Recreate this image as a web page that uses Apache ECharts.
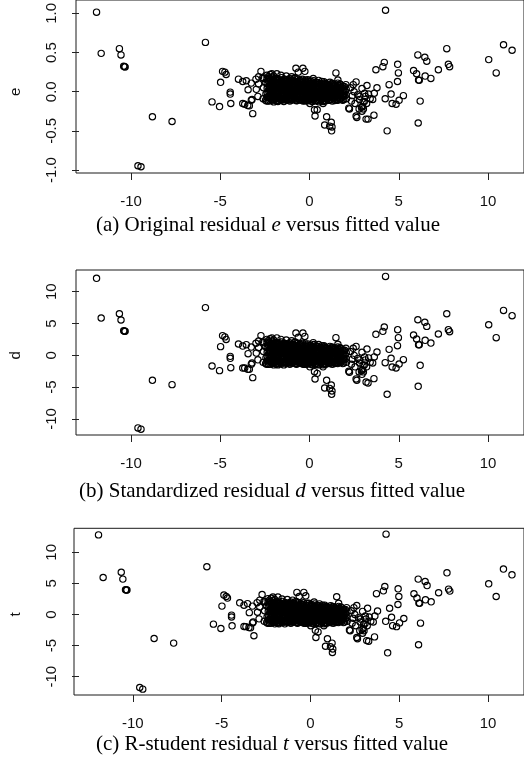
<!DOCTYPE html>
<html><head><meta charset="utf-8">
<script src="https://cdn.jsdelivr.net/npm/echarts@6/dist/echarts.min.js"></script>
<style>html,body{margin:0;padding:0;background:#fff}#c{width:524px;height:761px}</style>
</head><body><div id="c"></div>
<script>
// ---------- DATA ----------
// fitted values and residuals of the isolated points on the left
const leftX = [-11.93,-11.67,-10.65,-10.56,-10.41,-10.36,-10.33,-8.8,-7.7,-9.61,-9.44,-5.83,-4.87,-4.74,-4.67,-4.98,-5.46,-5.04,-4.44,-4.44,-4.41,-3.98,-3.74,-3.54,-3.74,-3.63,-3.44,-3.46,-3.37,-3.26,-3.18,-3.26,-2.89,-2.72,-2.98,-3.0,-2.85,-3.22,-2.85,-2.57,-2.39,-2.11,-1.83];
const leftE = [1.016,0.49,0.55,0.47,0.325,0.32,0.317,-0.32,-0.38,-0.946,-0.958,0.63,0.26,0.25,0.22,0.12,-0.13,-0.19,-0.005,-0.03,-0.15,0.16,0.13,0.14,-0.15,-0.16,0.025,-0.175,-0.18,-0.11,-0.28,0.11,-0.06,0.26,0.03,0.16,0.10,-0.10,0.19,0.17,0.21,0.23,0.23];
const leftD = [12.1,5.86,6.54,5.55,3.85,3.8,3.78,-3.92,-4.6,-11.4,-11.6,7.5,3.1,2.9,2.5,1.37,-1.68,-2.4,-0.16,-0.47,-1.94,1.78,1.46,1.68,-2.0,-2.0,0.26,-2.2,-2.2,-1.41,-3.5,1.3,-0.7,3.1,0.36,1.9,1.2,-1.2,2.26,2.0,2.5,2.74,2.74];
const leftT = [12.8,5.95,6.8,5.69,3.97,3.95,3.93,-3.86,-4.6,-11.74,-12.0,7.67,3.12,2.89,2.64,1.35,-1.55,-2.25,-0.1,-0.4,-1.82,1.88,1.5,1.75,-1.93,-1.95,0.3,-2.1,-2.15,-1.35,-3.42,1.35,-0.7,3.2,0.36,1.9,1.2,-1.2,2.3,2.05,2.55,2.8,2.8];

// isolated points on the right and around the dense cloud
const rightX = [4.26,10.87,11.35,10.04,10.46,7.69,6.07,6.46,6.57,7.78,7.85,7.22,6.8,6.48,5.83,6.0,6.11,6.15,6.2,6.09,4.35,4.94,4.98,4.93,4.19,4.11,3.72,4.46,3.78,4.57,4.24,5.26,5.02,4.63,4.85,3.28,3.61,3.31,3.4,3.22,2.65,2.24,2.61,1.48,1.59,0.96,0.85,1.22,1.26,1.24,0.31,0.28,0.43,-0.76,-0.63,-0.37,-0.26,2.91,2.78,3.0,2.94,2.82,3.09,2.7,2.8,2.98,3.02,2.94,3.13,3.2,3.07,3.63,3.54,2.2,2.61,3.17,1.13,0.76,0.02,-1.6,-1.3,-1.0,-0.8,-2.2,-1.44,-2.0,-2.4,-0.15,2.3,2.4,2.5,2.35,2.55,2.45];
const rightE = [1.04,0.60,0.53,0.41,0.24,0.55,0.47,0.44,0.39,0.35,0.32,0.28,0.17,0.20,0.27,0.23,0.15,0.145,-0.12,-0.40,-0.50,0.35,0.24,0.13,0.375,0.32,0.28,0.09,0.05,-0.03,-0.09,-0.05,-0.11,-0.15,-0.16,-0.35,-0.30,-0.03,-0.09,0.08,-0.33,-0.22,0.125,0.24,0.15,-0.32,-0.425,-0.39,-0.45,-0.50,-0.31,-0.23,-0.23,0.30,0.25,0.30,0.26,-0.20,-0.22,-0.13,0.04,-0.06,-0.02,-0.04,-0.10,-0.19,-0.22,-0.25,-0.06,-0.15,-0.125,-0.02,-0.10,-0.21,-0.31,-0.35,-0.44,-0.15,-0.15,0.21,0.2,0.19,0.18,0.22,-0.125,-0.13,-0.12,-0.12,0.05,-0.05,0.0,-0.12,-0.15,0.09];
const rightD = [12.4,7.06,6.23,4.81,2.78,6.54,5.6,5.2,4.55,4.03,3.72,3.35,1.93,2.36,3.2,2.57,1.68,1.65,-1.57,-4.87,-6.12,4.03,2.78,1.52,4.45,3.77,3.3,0.94,0.52,-0.47,-1.15,-0.68,-1.37,-1.83,-1.99,-4.34,-3.66,-0.4,-1.1,1.0,-3.92,-2.67,1.41,2.78,1.73,-3.92,-5.13,-4.66,-5.6,-6.12,-3.72,-2.56,-2.83,3.5,2.83,3.5,2.98,-2.4,-2.6,-1.55,0.48,-0.72,-0.24,-0.48,-1.2,-2.26,-2.6,-2.98,-0.72,-1.8,-1.5,-0.24,-1.2,-2.5,-3.7,-4.2,-5.2,-1.8,-1.8,2.5,2.4,2.3,2.1,2.6,-1.5,-1.5,-1.4,-1.4,0.6,-0.6,0.0,-1.4,-1.8,1.1];
const rightT = [12.92,7.3,6.38,4.93,2.9,6.7,5.69,5.3,4.65,4.08,3.76,3.49,2.04,2.36,3.33,2.64,1.83,1.8,-1.39,-4.87,-6.16,4.13,2.9,1.61,4.5,3.8,3.35,1.0,0.55,-0.45,-1.1,-0.65,-1.35,-1.8,-1.95,-4.3,-3.6,-0.4,-1.1,1.0,-3.9,-2.6,1.45,2.85,1.8,-3.9,-5.1,-4.6,-5.55,-6.1,-3.7,-2.55,-2.8,3.55,2.9,3.55,3.0,-2.4,-2.6,-1.55,0.5,-0.72,-0.25,-0.5,-1.2,-2.25,-2.6,-3.0,-0.72,-1.8,-1.5,-0.25,-1.2,-2.5,-3.7,-4.2,-5.2,-1.8,-1.8,2.5,2.4,2.3,2.1,2.6,-1.5,-1.5,-1.4,-1.4,0.6,-0.6,0.0,-1.4,-1.8,1.1];

// dense cloud around fitted value 0 (estimated; individual points cannot be read)
const coreX = [-2.62,-2.58,-2.6,-2.47,-2.44,-2.46,-2.31,-2.29,-2.32,-2.28,-2.3,-2.31,-2.16,-2.14,-2.15,-2.13,-2.16,-2.01,-1.99,-2.02,-1.98,-2.0,-2.01,-1.86,-1.84,-1.85,-1.83,-1.86,-1.85,-1.71,-1.69,-1.7,-1.72,-1.68,-1.56,-1.54,-1.55,-1.53,-1.56,-1.55,-1.41,-1.39,-1.4,-1.42,-1.38,-1.26,-1.24,-1.25,-1.23,-1.26,-1.11,-1.09,-1.1,-1.12,-1.08,-1.1,-0.96,-0.94,-0.95,-0.93,-0.96,-0.81,-0.79,-0.8,-0.82,-0.78,-0.66,-0.64,-0.65,-0.63,-0.66,-0.51,-0.49,-0.5,-0.52,-0.48,-0.36,-0.34,-0.35,-0.33,-0.36,-0.21,-0.19,-0.2,-0.22,-0.18,-0.06,-0.04,-0.05,-0.03,-0.06,0.09,0.11,0.1,0.12,0.08,0.24,0.26,0.25,0.27,0.23,0.39,0.41,0.4,0.42,0.38,0.54,0.56,0.55,0.57,0.53,0.69,0.71,0.7,0.72,0.68,0.84,0.86,0.85,0.87,0.83,0.99,1.01,1.0,1.02,1.14,1.16,1.15,1.17,1.13,1.29,1.31,1.3,1.32,1.28,1.44,1.46,1.45,1.47,1.59,1.61,1.6,1.62,1.58,1.74,1.76,1.75,1.77,1.89,1.91,1.9,1.92,2.04,2.06,2.05,2.07];
const coreE = [0.18,0.05,-0.09,0.12,-0.03,-0.11,0.19,0.13,0.06,0.0,-0.07,-0.12,0.16,0.10,0.04,-0.02,-0.08,0.20,0.14,0.08,0.02,-0.04,-0.10,0.17,0.11,0.05,-0.01,-0.07,-0.12,0.15,0.09,0.03,-0.03,-0.09,0.18,0.12,0.06,0.0,-0.06,-0.11,0.16,0.10,0.04,-0.02,-0.08,0.14,0.08,0.02,-0.04,-0.10,0.17,0.11,0.05,-0.01,-0.07,-0.12,0.15,0.09,0.03,-0.03,-0.09,0.13,0.07,0.01,-0.05,-0.11,0.16,0.10,0.04,-0.02,-0.08,0.14,0.08,0.02,-0.04,-0.10,0.12,0.06,0.0,-0.06,-0.12,0.15,0.09,0.03,-0.03,-0.09,0.13,0.07,0.01,-0.05,-0.10,0.11,0.05,-0.01,-0.07,-0.12,0.14,0.08,0.02,-0.04,-0.09,0.12,0.06,0.0,-0.06,-0.11,0.10,0.04,-0.02,-0.08,-0.13,0.13,0.07,0.01,-0.05,-0.10,0.11,0.05,-0.01,-0.07,-0.12,0.09,0.03,-0.03,-0.09,0.12,0.06,0.0,-0.06,-0.11,0.10,0.04,-0.02,-0.08,-0.12,0.08,0.02,-0.04,-0.10,0.11,0.05,-0.01,-0.07,-0.11,0.09,0.03,-0.03,-0.09,0.07,0.01,-0.05,-0.10,0.09,0.03,-0.04,-0.09];
const coreD = [2.1,0.6,-1.1,1.4,-0.4,-1.3,2.3,1.5,0.7,0.0,-0.8,-1.4,1.9,1.2,0.5,-0.2,-1.0,2.4,1.7,1.0,0.2,-0.5,-1.2,2.0,1.3,0.6,-0.1,-0.8,-1.4,1.8,1.1,0.4,-0.4,-1.1,2.1,1.4,0.7,0.0,-0.7,-1.3,1.9,1.2,0.5,-0.2,-1.0,1.7,1.0,0.2,-0.5,-1.2,2.0,1.3,0.6,-0.1,-0.8,-1.4,1.8,1.1,0.4,-0.4,-1.1,1.5,0.8,0.1,-0.6,-1.3,1.9,1.2,0.5,-0.2,-1.0,1.7,1.0,0.2,-0.5,-1.2,1.4,0.7,0.0,-0.7,-1.4,1.8,1.1,0.4,-0.4,-1.1,1.5,0.8,0.1,-0.6,-1.2,1.3,0.6,-0.1,-0.8,-1.4,1.7,1.0,0.2,-0.5,-1.1,1.4,0.7,0.0,-0.7,-1.3,1.2,0.5,-0.2,-1.0,-1.5,1.5,0.8,0.1,-0.6,-1.2,1.3,0.6,-0.1,-0.8,-1.4,1.1,0.4,-0.4,-1.1,1.4,0.7,0.0,-0.7,-1.3,1.2,0.5,-0.2,-1.0,-1.4,1.0,0.2,-0.5,-1.2,1.3,0.6,-0.1,-0.8,-1.3,1.1,0.4,-0.4,-1.1,0.8,0.1,-0.6,-1.2,1.1,0.4,-0.5,-1.1];
const coreT = [2.1,0.6,-1.1,1.4,-0.4,-1.3,2.3,1.5,0.7,0.0,-0.8,-1.4,1.9,1.2,0.5,-0.2,-1.0,2.4,1.7,1.0,0.2,-0.5,-1.2,2.0,1.3,0.6,-0.1,-0.8,-1.4,1.8,1.1,0.4,-0.4,-1.1,2.1,1.4,0.7,0.0,-0.7,-1.3,1.9,1.2,0.5,-0.2,-1.0,1.7,1.0,0.2,-0.5,-1.2,2.0,1.3,0.6,-0.1,-0.8,-1.4,1.8,1.1,0.4,-0.4,-1.1,1.5,0.8,0.1,-0.6,-1.3,1.9,1.2,0.5,-0.2,-1.0,1.7,1.0,0.2,-0.5,-1.2,1.4,0.7,0.0,-0.7,-1.4,1.8,1.1,0.4,-0.4,-1.1,1.5,0.8,0.1,-0.6,-1.2,1.3,0.6,-0.1,-0.8,-1.4,1.7,1.0,0.2,-0.5,-1.1,1.4,0.7,0.0,-0.7,-1.3,1.2,0.5,-0.2,-1.0,-1.5,1.5,0.8,0.1,-0.6,-1.2,1.3,0.6,-0.1,-0.8,-1.4,1.1,0.4,-0.4,-1.1,1.4,0.7,0.0,-0.7,-1.3,1.2,0.5,-0.2,-1.0,-1.4,1.0,0.2,-0.5,-1.2,1.3,0.6,-0.1,-0.8,-1.3,1.1,0.4,-0.4,-1.1,0.8,0.1,-0.6,-1.2,1.1,0.4,-0.5,-1.1];
const core2X = [-2.38,-2.37,-2.375,-2.365,-2.38,-2.23,-2.22,-2.225,-2.215,-2.23,-2.22,-2.08,-2.07,-2.075,-2.065,-2.08,-2.07,-1.93,-1.92,-1.925,-1.915,-1.93,-1.78,-1.77,-1.775,-1.765,-1.78,-1.77,-1.63,-1.62,-1.625,-1.615,-1.63,-1.48,-1.47,-1.475,-1.465,-1.48,-1.33,-1.32,-1.325,-1.315,-1.33,-1.18,-1.17,-1.175,-1.165,-1.18,-1.03,-1.02,-1.025,-1.015,-1.03,-0.88,-0.87,-0.875,-0.865,-0.88,-0.73,-0.72,-0.725,-0.715,-0.73,-0.58,-0.57,-0.575,-0.565,-0.58,-0.43,-0.42,-0.425,-0.415,-0.43,-0.28,-0.27,-0.275,-0.265,-0.28,-0.13,-0.12,-0.125,-0.115,-0.13,0.02,0.03,0.025,0.035,0.02,0.17,0.18,0.175,0.185,0.17,0.32,0.33,0.325,0.335,0.32,0.47,0.48,0.475,0.485,0.47,0.62,0.63,0.625,0.635,0.77,0.78,0.775,0.785,0.77,0.92,0.93,0.925,0.935,0.92,1.07,1.08,1.075,1.085,1.22,1.23,1.225,1.235,1.37,1.38,1.375,1.385,1.52,1.53,1.525,1.535,1.67,1.68,1.675,1.685,1.82,1.83,1.825,1.97,1.98,1.975];
const core2E = [0.165,0.105,0.045,-0.015,-0.075,0.175,0.115,0.055,-0.005,-0.065,-0.115,0.185,0.125,0.065,0.005,-0.055,-0.105,0.155,0.095,0.035,-0.025,-0.085,0.165,0.105,0.045,-0.015,-0.075,-0.125,0.135,0.075,0.015,-0.045,-0.1,0.145,0.085,0.025,-0.035,-0.095,0.155,0.095,0.035,-0.025,-0.085,0.125,0.065,0.005,-0.055,-0.105,0.135,0.075,0.015,-0.045,-0.105,0.145,0.085,0.025,-0.035,-0.095,0.115,0.055,-0.005,-0.065,-0.115,0.125,0.065,0.005,-0.055,-0.105,0.135,0.075,0.015,-0.045,-0.105,0.105,0.045,-0.015,-0.075,-0.115,0.115,0.055,-0.005,-0.065,-0.11,0.125,0.065,0.005,-0.055,-0.105,0.095,0.035,-0.025,-0.085,-0.125,0.105,0.045,-0.015,-0.075,-0.115,0.115,0.055,-0.005,-0.065,-0.115,0.085,0.025,-0.035,-0.095,0.095,0.035,-0.025,-0.085,-0.125,0.105,0.045,-0.015,-0.075,-0.115,0.075,0.015,-0.045,-0.105,0.085,0.025,-0.035,-0.095,0.095,0.035,-0.025,-0.085,0.065,0.005,-0.055,-0.105,0.075,0.015,-0.045,-0.095,0.055,-0.005,-0.065,0.065,0.005,-0.055];
const core2D = [2.0,1.2,0.5,-0.2,-0.9,2.1,1.4,0.7,-0.1,-0.8,-1.4,2.2,1.5,0.8,0.1,-0.7,-1.2,1.8,1.1,0.4,-0.3,-1.0,2.0,1.2,0.5,-0.2,-0.9,-1.5,1.6,0.9,0.2,-0.5,-1.2,1.7,1.0,0.3,-0.4,-1.1,1.8,1.1,0.4,-0.3,-1.0,1.5,0.8,0.1,-0.7,-1.2,1.6,0.9,0.2,-0.5,-1.2,1.7,1.0,0.3,-0.4,-1.1,1.4,0.7,-0.1,-0.8,-1.4,1.5,0.8,0.1,-0.7,-1.2,1.6,0.9,0.2,-0.5,-1.2,1.2,0.5,-0.2,-0.9,-1.4,1.4,0.7,-0.1,-0.8,-1.3,1.5,0.8,0.1,-0.7,-1.2,1.1,0.4,-0.3,-1.0,-1.5,1.2,0.5,-0.2,-0.9,-1.4,1.4,0.7,-0.1,-0.8,-1.4,1.0,0.3,-0.4,-1.1,1.1,0.4,-0.3,-1.0,-1.5,1.2,0.5,-0.2,-0.9,-1.4,0.9,0.2,-0.5,-1.2,1.0,0.3,-0.4,-1.1,1.1,0.4,-0.3,-1.0,0.8,0.1,-0.7,-1.2,0.9,0.2,-0.5,-1.1,0.7,-0.1,-0.8,0.8,0.1,-0.7];
const core2T = [2.0,1.2,0.5,-0.2,-0.9,2.1,1.4,0.7,-0.1,-0.8,-1.4,2.2,1.5,0.8,0.1,-0.7,-1.2,1.8,1.1,0.4,-0.3,-1.0,2.0,1.2,0.5,-0.2,-0.9,-1.5,1.6,0.9,0.2,-0.5,-1.2,1.7,1.0,0.3,-0.4,-1.1,1.8,1.1,0.4,-0.3,-1.0,1.5,0.8,0.1,-0.7,-1.2,1.6,0.9,0.2,-0.5,-1.2,1.7,1.0,0.3,-0.4,-1.1,1.4,0.7,-0.1,-0.8,-1.4,1.5,0.8,0.1,-0.7,-1.2,1.6,0.9,0.2,-0.5,-1.2,1.2,0.5,-0.2,-0.9,-1.4,1.4,0.7,-0.1,-0.8,-1.3,1.5,0.8,0.1,-0.7,-1.2,1.1,0.4,-0.3,-1.0,-1.5,1.2,0.5,-0.2,-0.9,-1.4,1.4,0.7,-0.1,-0.8,-1.4,1.0,0.3,-0.4,-1.1,1.1,0.4,-0.3,-1.0,-1.5,1.2,0.5,-0.2,-0.9,-1.4,0.9,0.2,-0.5,-1.2,1.0,0.3,-0.4,-1.1,1.1,0.4,-0.3,-1.0,0.8,0.1,-0.7,-1.2,0.9,0.2,-0.5,-1.1,0.7,-0.1,-0.8,0.8,0.1,-0.7];
const core3X = [-2.19,-2.19,-2.19,-2.19,-2.19,-2.04,-2.04,-2.04,-2.04,-2.04,-1.89,-1.89,-1.89,-1.89,-1.89,-1.74,-1.74,-1.74,-1.74,-1.74,-1.59,-1.59,-1.59,-1.59,-1.59,-1.44,-1.44,-1.44,-1.44,-1.44,-1.29,-1.29,-1.29,-1.29,-1.29,-1.14,-1.14,-1.14,-1.14,-1.14,-0.99,-0.99,-0.99,-0.99,-0.99,-0.84,-0.84,-0.84,-0.84,-0.84,-0.69,-0.69,-0.69,-0.69,-0.69,-0.54,-0.54,-0.54,-0.54,-0.54,-0.39,-0.39,-0.39,-0.39,-0.39,-0.24,-0.24,-0.24,-0.24,-0.24,-0.09,-0.09,-0.09,-0.09,-0.09,0.06,0.06,0.06,0.06,0.06,0.21,0.21,0.21,0.21,0.21,0.36,0.36,0.36,0.36,0.36,0.51,0.51,0.51,0.51,0.51,0.66,0.66,0.66,0.66,0.81,0.81,0.81,0.81,0.81,0.96,0.96,0.96,0.96,1.11,1.11,1.11,1.11,1.26,1.26,1.26,1.26,1.41,1.41,1.41,1.41,1.56,1.56,1.56,1.56,1.71,1.71,1.71,1.71,1.86,1.86,1.86,1.86];
const core3E = [0.152,0.092,0.032,-0.028,-0.088,0.138,0.078,0.018,-0.042,-0.102,0.168,0.108,0.048,-0.012,-0.072,0.122,0.062,0.002,-0.058,-0.112,0.145,0.085,0.025,-0.035,-0.095,0.158,0.098,0.038,-0.022,-0.082,0.128,0.068,0.008,-0.052,-0.108,0.152,0.092,0.032,-0.028,-0.088,0.138,0.078,0.018,-0.042,-0.102,0.168,0.108,0.048,-0.012,-0.072,0.122,0.062,0.002,-0.058,-0.112,0.145,0.085,0.025,-0.035,-0.095,0.158,0.098,0.038,-0.022,-0.082,0.128,0.068,0.008,-0.052,-0.108,0.152,0.092,0.032,-0.028,-0.088,0.138,0.078,0.018,-0.042,-0.102,0.168,0.108,0.048,-0.012,-0.072,0.122,0.062,0.002,-0.058,-0.112,0.145,0.085,0.025,-0.035,-0.095,0.098,0.038,-0.022,-0.082,0.128,0.068,0.008,-0.052,-0.108,0.092,0.032,-0.028,-0.088,0.078,0.018,-0.042,-0.102,0.108,0.048,-0.012,-0.072,0.062,0.002,-0.058,-0.112,0.085,0.025,-0.035,-0.095,0.098,0.038,-0.022,-0.082,0.068,0.008,-0.052,-0.108];
const core3D = [1.8,1.1,0.4,-0.3,-1.0,1.6,0.9,0.2,-0.5,-1.2,2.0,1.3,0.6,-0.1,-0.9,1.5,0.7,0.0,-0.7,-1.3,1.7,1.0,0.3,-0.4,-1.1,1.9,1.2,0.5,-0.3,-1.0,1.5,0.8,0.1,-0.6,-1.3,1.8,1.1,0.4,-0.3,-1.0,1.6,0.9,0.2,-0.5,-1.2,2.0,1.3,0.6,-0.1,-0.9,1.5,0.7,0.0,-0.7,-1.3,1.7,1.0,0.3,-0.4,-1.1,1.9,1.2,0.5,-0.3,-1.0,1.5,0.8,0.1,-0.6,-1.3,1.8,1.1,0.4,-0.3,-1.0,1.6,0.9,0.2,-0.5,-1.2,2.0,1.3,0.6,-0.1,-0.9,1.5,0.7,0.0,-0.7,-1.3,1.7,1.0,0.3,-0.4,-1.1,1.2,0.5,-0.3,-1.0,1.5,0.8,0.1,-0.6,-1.3,1.1,0.4,-0.3,-1.0,0.9,0.2,-0.5,-1.2,1.3,0.6,-0.1,-0.9,0.7,0.0,-0.7,-1.3,1.0,0.3,-0.4,-1.1,1.2,0.5,-0.3,-1.0,0.8,0.1,-0.6,-1.3];
const core3T = [1.8,1.1,0.4,-0.3,-1.0,1.6,0.9,0.2,-0.5,-1.2,2.0,1.3,0.6,-0.1,-0.9,1.5,0.7,0.0,-0.7,-1.3,1.7,1.0,0.3,-0.4,-1.1,1.9,1.2,0.5,-0.3,-1.0,1.5,0.8,0.1,-0.6,-1.3,1.8,1.1,0.4,-0.3,-1.0,1.6,0.9,0.2,-0.5,-1.2,2.0,1.3,0.6,-0.1,-0.9,1.5,0.7,0.0,-0.7,-1.3,1.7,1.0,0.3,-0.4,-1.1,1.9,1.2,0.5,-0.3,-1.0,1.5,0.8,0.1,-0.6,-1.3,1.8,1.1,0.4,-0.3,-1.0,1.6,0.9,0.2,-0.5,-1.2,2.0,1.3,0.6,-0.1,-0.9,1.5,0.7,0.0,-0.7,-1.3,1.7,1.0,0.3,-0.4,-1.1,1.2,0.5,-0.3,-1.0,1.5,0.8,0.1,-0.6,-1.3,1.1,0.4,-0.3,-1.0,0.9,0.2,-0.5,-1.2,1.3,0.6,-0.1,-0.9,0.7,0.0,-0.7,-1.3,1.0,0.3,-0.4,-1.1,1.2,0.5,-0.3,-1.0,0.8,0.1,-0.6,-1.3];

// tick labels, axis names and captions
const eTickLabels = { '-1': '-1.0', '-0.5': '-0.5', '0': '0.0', '0.5': '0.5', '1': '1.0' };
const yNames = ['e', 'd', 't'];
const captions = [
  '(a) Original residual {i|e} versus fitted value',
  '(b) Standardized residual {i|d} versus fitted value',
  '(c) R-student residual {i|t} versus fitted value'
];

// ---------- LAYOUT ----------
// box: the framed plot region; plot: the rectangle spanned by the first and last ticks
const panels = [
  { box: { left: 76, top: 0, height: 173 }, plot: { left: 128, width: 360, top: 10.5, height: 159.5 },
    xOffset: 3, yOffset: 52, yMin: -1, yMax: 1, yInterval: 0.5,
    ys: [leftE, rightE, coreE, core2E, core3E], fmt: v => eTickLabels[String(v)] || String(v), capX: 268, capY: 225.6 },
  { box: { left: 76, top: 270, height: 165 }, plot: { left: 128, width: 360, top: 291.7, height: 127.3 },
    xOffset: 16, yOffset: 52, yMin: -10, yMax: 10, yInterval: 5,
    ys: [leftD, rightD, coreD, core2D, core3D], fmt: v => String(v), capX: 272, capY: 491.5 },
  { box: { left: 74, top: 528.3, height: 166.7 }, plot: { left: 127.8, width: 360.2, top: 552.3, height: 124.4 },
    xOffset: 18.3, yOffset: 53.8, yMin: -10, yMax: 10, yInterval: 5,
    ys: [leftT, rightT, coreT, core2T, core3T], fmt: v => String(v), capX: 272, capY: 744 }
];
const xs = leftX.concat(rightX, coreX, core2X, core3X);
const ink = '#111';
const sans = '"Liberation Sans", Arial, sans-serif';
const serif = '"Liberation Serif", "Times New Roman", serif';

const grid = [], xAxis = [], yAxis = [], series = [], graphic = [];
panels.forEach(p => {
  grid.push({ left: p.box.left, right: -8, top: p.box.top, height: p.box.height, show: true,
    borderColor: '#1a1a1a', borderWidth: 1, backgroundColor: 'transparent' });
});
panels.forEach((p, i) => {
  const gi = panels.length + i;
  grid.push({ left: p.plot.left, width: p.plot.width, top: p.plot.top, height: p.plot.height, show: false });
  xAxis.push({ type: 'value', gridIndex: gi, position: 'bottom', min: -10, max: 10, interval: 5, offset: p.xOffset,
    axisLine: { show: false, onZero: false }, splitLine: { show: false },
    axisTick: { show: true, inside: false, length: 7, lineStyle: { color: '#222', width: 1 } },
    axisLabel: { margin: 21, fontSize: 15, fontFamily: sans, color: ink } });
  yAxis.push({ type: 'value', gridIndex: gi, position: 'left', min: p.yMin, max: p.yMax, interval: p.yInterval, offset: p.yOffset,
    name: yNames[i], nameLocation: 'middle', nameRotate: 90, nameGap: 56,
    nameTextStyle: { fontSize: 15, fontFamily: sans, color: ink },
    axisLine: { show: false, onZero: false }, splitLine: { show: false },
    axisTick: { show: true, inside: false, length: 7, lineStyle: { color: '#222', width: 1 } },
    axisLabel: { rotate: 90, margin: 20, fontSize: 15, fontFamily: sans, color: ink, formatter: p.fmt } });
  const ysAll = [].concat(...p.ys);
  series.push({ type: 'scatter', xAxisIndex: i, yAxisIndex: i, silent: true, clip: false,
    symbol: 'circle', symbolSize: 6.3,
    itemStyle: { color: 'rgba(0,0,0,0)', borderColor: '#000', borderWidth: 1.15, opacity: 1 },
    data: xs.map((x, k) => [x, ysAll[k]]) });
  graphic.push({ type: 'text', x: p.capX, y: p.capY, silent: true,
    style: { text: captions[i], fontSize: 21, fontFamily: serif, fill: '#000',
      align: 'center', verticalAlign: 'middle',
      rich: { i: { fontStyle: 'italic', fontSize: 21, fontFamily: serif, fill: '#000' } } } });
});

const chart = echarts.init(document.getElementById('c'), null, { renderer: 'canvas', width: 524, height: 761 });
chart.setOption({ animation: false, backgroundColor: '#fff', grid, xAxis, yAxis, series, graphic });
</script></body></html>
